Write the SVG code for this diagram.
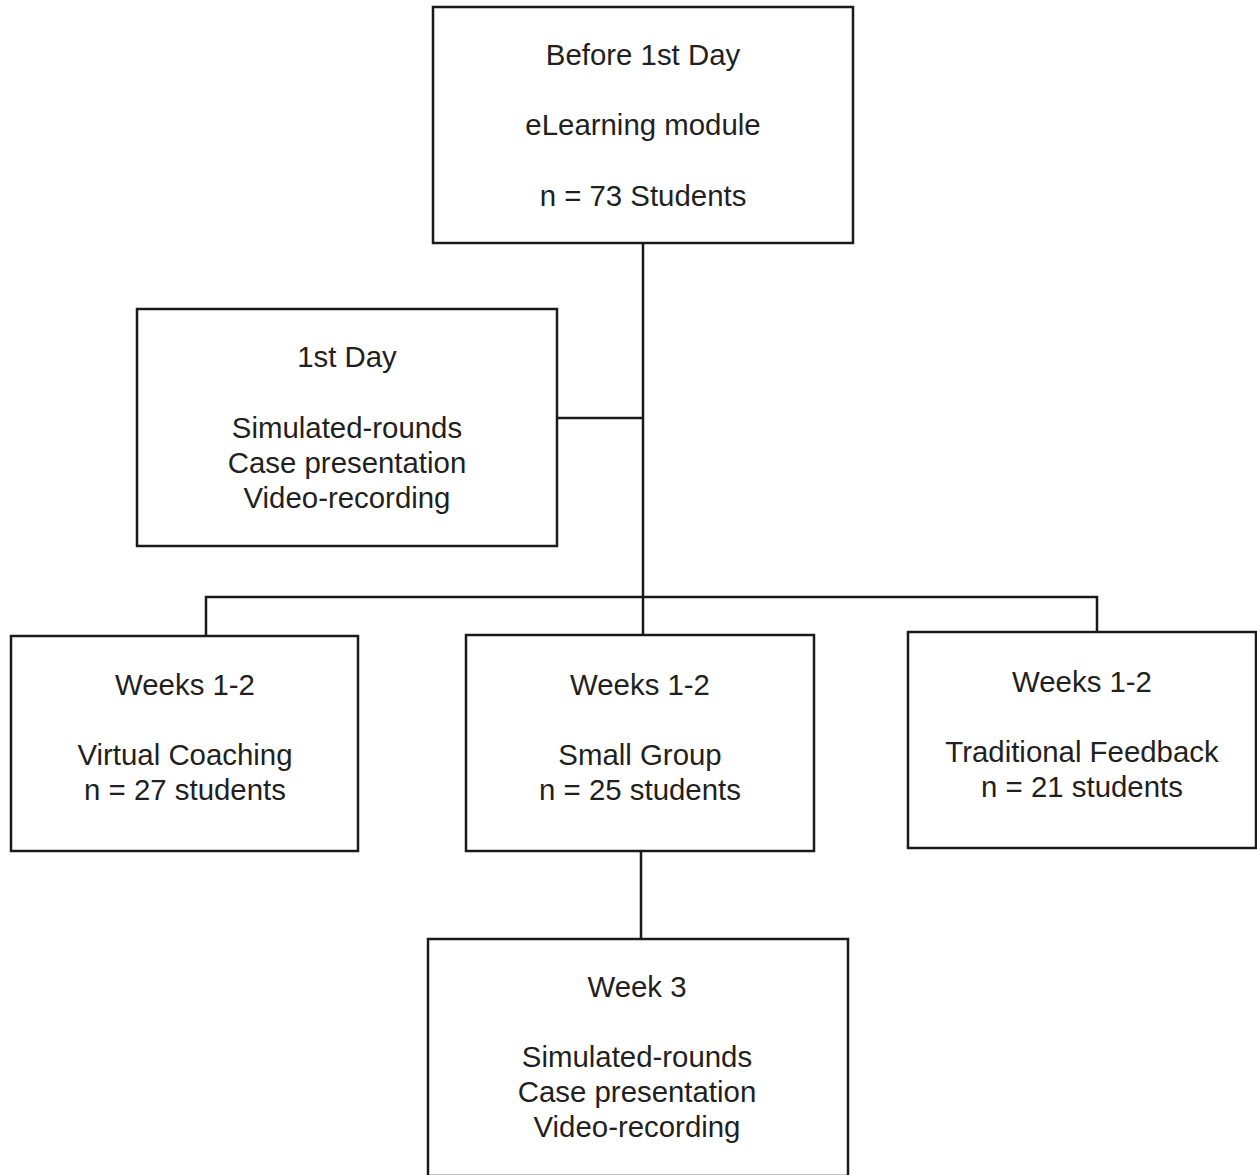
<svg xmlns="http://www.w3.org/2000/svg" width="1257" height="1175" viewBox="0 0 1257 1175">
<style>
.box{fill:#fff;stroke:#1a1a1a;stroke-width:2.5}
.ln{fill:none;stroke:#1a1a1a;stroke-width:2.5}
text{font-family:"Liberation Sans",Arial,sans-serif;font-size:29.4px;fill:#231f20;text-anchor:middle}
</style>
<rect width="1257" height="1175" fill="#fff"/>
<g id="connectors">
<path class="ln" d="M643 243V635"/>
<path class="ln" d="M557 418H643"/>
<path class="ln" d="M206 636V597H1097V632"/>
<path class="ln" d="M641 851V939"/>
</g>
<g id="before-day1">
<rect class="box" x="433" y="7" width="420" height="236"/>
<text x="643" y="65">Before 1st Day</text>
<text x="643" y="135">eLearning module</text>
<text x="643" y="206">n = 73 Students</text>
</g>
<g id="day1">
<rect class="box" x="137" y="309" width="420" height="237"/>
<text x="347" y="367">1st Day</text>
<text x="347" y="438">Simulated-rounds</text>
<text x="347" y="473">Case presentation</text>
<text x="347" y="508">Video-recording</text>
</g>
<g id="virtual-coaching">
<rect class="box" x="11" y="636" width="347" height="215"/>
<text x="185" y="695">Weeks 1-2</text>
<text x="185" y="765">Virtual Coaching</text>
<text x="185" y="800">n = 27 students</text>
</g>
<g id="small-group">
<rect class="box" x="466" y="635" width="348" height="216"/>
<text x="640" y="695">Weeks 1-2</text>
<text x="640" y="765">Small Group</text>
<text x="640" y="800">n = 25 students</text>
</g>
<g id="traditional-feedback">
<rect class="box" x="908" y="632" width="348" height="216"/>
<text x="1082" y="692">Weeks 1-2</text>
<text x="1082" y="762">Traditional Feedback</text>
<text x="1082" y="797">n = 21 students</text>
</g>
<g id="week3">
<rect class="box" x="428" y="939" width="420" height="237"/>
<text x="637" y="997">Week 3</text>
<text x="637" y="1067">Simulated-rounds</text>
<text x="637" y="1102">Case presentation</text>
<text x="637" y="1137">Video-recording</text>
</g>
</svg>
